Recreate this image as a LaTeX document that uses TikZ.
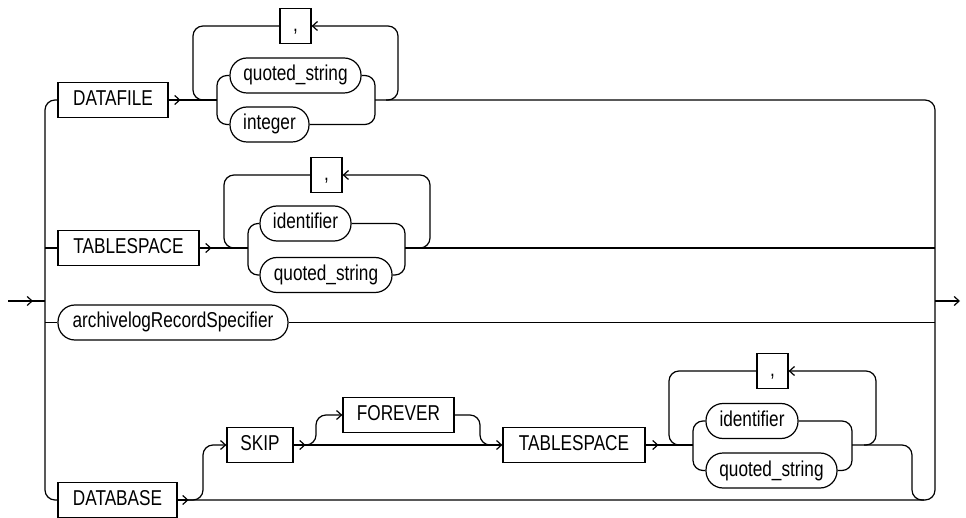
\documentclass[tikz,border=0pt]{standalone}
\usepackage{fontspec}
\setmainfont[FakeStretch=0.8]{Liberation Sans}
\usetikzlibrary{arrows.meta}

\begin{document}
\begin{tikzpicture}[x=1pt,y=-1pt, line width=1.2pt, >={Straight Barb[length=5pt,width=9pt]},
  every node/.style={font=\fontsize{21.5}{24}\selectfont, minimum height=35pt, inner sep=0pt,
    text height=15pt, text depth=4pt},
  kw/.style={draw,rectangle},
  nt/.style={draw,rectangle,rounded corners=17pt},
  rail/.style={draw,rounded corners=10pt}]
\useasboundingbox (0,0) rectangle (966,518);
% keywords and items
\node[kw,minimum width=110pt] (datafile) at (113,100) {DATAFILE};
\node[kw,minimum width=31pt] (comma1) at (295.5,26) {,};
\node[nt,minimum width=131pt] (qstr1) at (295.5,75.5) {quoted\_string};
\node[nt,minimum width=79pt] (int1) at (269.5,124.5) {integer};
\node[kw,minimum width=141pt] (tspace1) at (128.5,248) {TABLESPACE};
\node[kw,minimum width=31pt] (comma2) at (326.5,175) {,};
\node[nt,minimum width=91pt] (ident1) at (305.5,223.5) {identifier};
\node[nt,minimum width=132pt] (qstr2) at (326,275) {quoted\_string};
\node[nt,minimum width=230pt] (arch) at (173,322.5) {archivelogRecordSpecifier};
\node[kw,minimum width=119pt] (database) at (117.5,500) {DATABASE};
\node[kw,minimum width=66pt] (skip) at (260,445) {SKIP};
\node[kw,minimum width=111pt] (forever) at (398.5,415) {FOREVER};
\node[kw,minimum width=142pt] (tspace2) at (574,445) {TABLESPACE};
\node[kw,minimum width=31pt] (comma3) at (772.5,371) {,};
\node[nt,minimum width=92pt] (ident2) at (752,421) {identifier};
\node[nt,minimum width=131pt] (qstr3) at (771.5,470.5) {quoted\_string};
\coordinate (in) at (8,301);
\coordinate (out) at (960,301);
% entry, exit and outer rails
\draw[->] (in) -- (33,301);
\draw (in) -- (45,301);
\draw[->] (935,301) -- (out);
\draw[rail] (datafile.west) -- (45,100) -- (45,500) -- (database.west);
\draw (45,248) -- (tspace1.west);
\draw (45,322.5) -- (arch.west);
\draw[rail] (375,100) -- (935,100) -- (935,500) -- (187,500);
\draw (405,248) -- (935,248);
\draw (arch.east) -- (935,322.5);
% DATAFILE
\draw[->] (datafile.east) -- ++(12,0);
\draw (datafile.east) -- (217,100);
\draw[rail] (comma1.west) -- (193,26) -- (193,100) -- (205,100);
\draw[rail] (qstr1.west) -- (217,75.5) -- (217,124.5) -- (int1.west);
\draw[rail] (qstr1.east) -- (375,75.5) -- (375,124.5) -- (int1.east);
\draw[rail,->] (386,100) -- (398,100) -- (398,26) -- (comma1.east);
% TABLESPACE
\draw[->] (tspace1.east) -- ++(12,0);
\draw (tspace1.east) -- (248,248);
\draw[rail] (comma2.west) -- (224,175) -- (224,248) -- (236,248);
\draw[rail] (ident1.west) -- (248,223.5) -- (248,275) -- (qstr2.west);
\draw[rail] (ident1.east) -- (405,223.5) -- (405,275) -- (qstr2.east);
\draw[rail,->] (418,248) -- (430,248) -- (430,175) -- (comma2.east);
% DATABASE
\draw[->] (database.east) -- ++(11,0);
\draw[rail,->] (188,500) -- (203,500) -- (203,445) -- (skip.west);
\draw[->] (skip.east) -- ++(12,0);
\draw[->] (skip.east) -- (tspace2.west);
\draw[rail,->] (305,445) -- (316,445) -- (316,415) -- (forever.west);
\draw[rail] (forever.east) -- (480,415) -- (480,445) -- (492,445);
\draw[->] (tspace2.east) -- ++(13,0);
\draw (tspace2.east) -- (693,445);
\draw[rail] (comma3.west) -- (669,371) -- (669,445) -- (681,445);
\draw[rail] (ident2.west) -- (693,421) -- (693,470.5) -- (qstr3.west);
\draw[rail] (ident2.east) -- (852,421) -- (852,470.5) -- (qstr3.east);
\draw[rail,->] (864,445) -- (876,445) -- (876,371) -- (comma3.east);
\draw[rail] (852,445) -- (912,445) -- (912,500) -- (924,500);
\end{tikzpicture}
\end{document}
